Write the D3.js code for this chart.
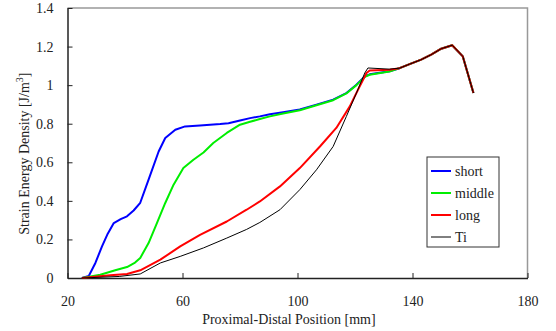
<!DOCTYPE html>
<html>
<head>
<meta charset="utf-8">
<script src="https://cdn.jsdelivr.net/npm/d3@7"></script>
<style>
  body { margin: 0; background: #fff; }
  svg text { font-family: "Liberation Serif", "DejaVu Serif", serif; fill: #222; }
</style>
</head>
<body>
<div id="chart"></div>
<script>
// values
const seriesNames = ["short", "middle", "long", "Ti"];
const seriesColors = ["#0000ff", "#00ee00", "#ff0000", "#000000"];

// shared tail after the curves meet at ~135 mm
const tail = [[135.5, 1.088], [139, 1.109], [143, 1.132], [146.5, 1.158], [150, 1.189], [153.8, 1.207], [157.5, 1.149], [161.2, 0.959]];

const shortVals = [[25, 0], [27.4, 0.01], [29.7, 0.078], [32, 0.164], [34, 0.23], [36.1, 0.285], [38.5, 0.305], [40.7, 0.32], [43, 0.35], [45.3, 0.39],
  [48.2, 0.51], [51.7, 0.656], [54, 0.726], [57.5, 0.769], [60.9, 0.786], [66.1, 0.791], [73.1, 0.798], [76, 0.802], [80, 0.817], [83.5, 0.829],
  [86.9, 0.838], [90.4, 0.849], [95, 0.86], [100.8, 0.874], [106.6, 0.899], [112.4, 0.925], [117, 0.959], [120.5, 1.002], [123.4, 1.045],
  [125.1, 1.056], [132, 1.072], ...tail];
const middleVals = [[25, 0], [31.4, 0.017], [36.6, 0.04], [40.7, 0.057], [43.5, 0.08], [45.3, 0.104], [48.2, 0.181], [51.1, 0.285], [54, 0.389],
  [56.9, 0.484], [60.3, 0.57], [63.8, 0.613], [67.3, 0.651], [70.7, 0.7], [75.4, 0.752], [80, 0.795], [83.5, 0.81], [86.9, 0.824],
  [90.4, 0.838], [95, 0.853], [100.8, 0.87], [106.6, 0.896], [112.4, 0.922], [117, 0.957], [120.5, 1.0], [123.4, 1.043],
  [125.1, 1.054], [132, 1.071], ...tail];
const longVals = [[25, 0], [34.9, 0.014], [40.7, 0.021], [45.3, 0.04], [52.3, 0.095], [59.2, 0.164], [66.1, 0.224], [75.4, 0.293],
  [82.3, 0.354], [86.9, 0.397], [93.9, 0.475], [100.8, 0.57], [107.8, 0.682], [113.5, 0.778], [118.2, 0.89], [121.6, 0.993],
  [124, 1.063], [125.1, 1.076], [132, 1.08], ...tail];
const tiVals = [[25, 0], [38, 0.008], [45.3, 0.021], [52.3, 0.078], [59.2, 0.112], [67.3, 0.156], [75.4, 0.207], [82.3, 0.252],
  [86.9, 0.288], [93.9, 0.354], [100.8, 0.458], [106.6, 0.561], [112.4, 0.682], [117, 0.838], [120.5, 0.959], [123.4, 1.063],
  [124.5, 1.089], [132, 1.083], ...tail];

const xTicks = [20, 60, 100, 140, 180];
const yTicks = [0, 0.2, 0.4, 0.6, 0.8, 1, 1.2, 1.4];

const W = 556, H = 331;
const margin = { left: 67.5, top: 8, right: 28.5, bottom: 53 };
const width = W - margin.left - margin.right;
const height = H - margin.top - margin.bottom;
const FONT = '"Liberation Serif", "DejaVu Serif", serif';

const svg = d3.select("#chart").append("svg")
  .attr("width", W).attr("height", H);
const g = svg.append("g").attr("transform", `translate(${margin.left},${margin.top})`);

const x = d3.scaleLinear().domain([20, 180]).range([0, width]);
const y = d3.scaleLinear().domain([0, 1.4]).range([height, 0]);

// plot frame (top + right in grey)
g.append("path")
  .attr("d", `M0,0H${width}V${height}`)
  .attr("fill", "none").attr("stroke", "#999").attr("stroke-width", 1.5);

// axes with inward ticks
const xAxis = g.append("g")
  .attr("transform", `translate(0,${height})`)
  .call(d3.axisBottom(x).tickValues(xTicks).tickSize(-5).tickPadding(18).tickSizeOuter(0));
const yAxis = g.append("g")
  .call(d3.axisLeft(y).tickValues(yTicks).tickSize(-5).tickPadding(14).tickSizeOuter(0)
    .tickFormat(d => d3.format("")(+d.toFixed(1))));

[xAxis, yAxis].forEach(a => {
  a.attr("font-family", FONT);
  a.select(".domain").attr("stroke", "#222").attr("stroke-width", 1.5);
  a.selectAll(".tick line").attr("stroke", "#222");
  a.selectAll("text").attr("font-size", 14).attr("fill", "#222");
});

// lines
const line = d3.line().x(d => x(d[0])).y(d => y(d[1]));
const allSeries = [shortVals, middleVals, longVals, tiVals];
allSeries.forEach((vals, i) => {
  g.append("path")
    .datum(vals)
    .attr("d", line)
    .attr("fill", "none")
    .attr("stroke", seriesColors[i])
    .attr("stroke-width", i === 3 ? 1 : 2)
    .attr("stroke-linejoin", "round");
});

// axis titles
svg.append("text")
  .attr("x", margin.left + x(97)).attr("y", 324)
  .attr("text-anchor", "middle").attr("font-size", 14).attr("font-family", FONT)
  .text("Proximal-Distal Position [mm]");

const yLab = svg.append("text")
  .attr("transform", `translate(29,${margin.top + y(0.645)}) rotate(-90)`)
  .attr("text-anchor", "middle").attr("font-size", 14).attr("font-family", FONT);
yLab.append("tspan").text("Strain Energy Density [J/m");
yLab.append("tspan").attr("dy", -6).attr("font-size", 10).text("3");
yLab.append("tspan").attr("dy", 6).text("]");

// legend
const lg = svg.append("g").attr("transform", "translate(427,157)").attr("font-family", FONT);
lg.append("rect").attr("width", 72).attr("height", 90)
  .attr("fill", "#fff").attr("stroke", "#333").attr("stroke-width", 1);
seriesNames.forEach((name, i) => {
  const yy = 14 + i * 22;
  lg.append("line").attr("x1", 4).attr("x2", 24).attr("y1", yy).attr("y2", yy)
    .attr("stroke", seriesColors[i]).attr("stroke-width", i === 3 ? 1 : 2);
  lg.append("text").attr("x", 28).attr("y", yy + 5).attr("font-size", 14).text(name);
});
</script>
</body>
</html>
